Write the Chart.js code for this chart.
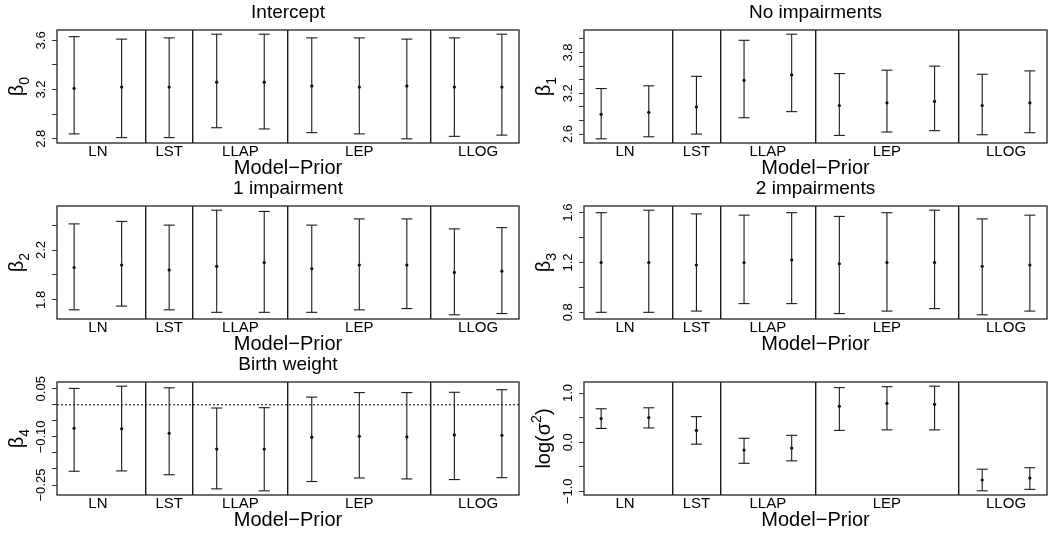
<!DOCTYPE html>
<html>
<head>
<meta charset="utf-8">
<script src="https://cdn.jsdelivr.net/npm/chart.js@4.4.1/dist/chart.umd.min.js"></script>
<style>
  body { margin: 0; background: #fff; }
  #wrap { position: relative; width: 1055px; height: 534px; }
  #wrap canvas { position: absolute; }
</style>
</head>
<body>
<div id="wrap"></div>
<script>
const groups = ['LN', 'LST', 'LLAP', 'LEP', 'LLOG'];
const groupCentres = [1.5, 3, 4.5, 7, 9.5];
const groupBreaks = [2.5, 3.5, 5.5, 8.5];
const fits = [1, 2, 3, 4, 5, 6, 7, 8, 9, 10];

// Intercept
const mid0 = [3.21, 3.22, 3.22, 3.26, 3.26, 3.23, 3.22, 3.23, 3.22, 3.22];
const lo0 = [2.84, 2.81, 2.81, 2.89, 2.88, 2.85, 2.84, 2.80, 2.82, 2.83];
const hi0 = [3.63, 3.61, 3.62, 3.65, 3.65, 3.62, 3.62, 3.61, 3.62, 3.65];
const ticks0 = [2.8, 3.0, 3.2, 3.4, 3.6];
const tickLabels0 = ['2.8', '', '3.2', '', '3.6'];

// No impairments
const mid1 = [2.89, 2.92, 3.00, 3.39, 3.47, 3.02, 3.06, 3.08, 3.02, 3.06];
const lo1 = [2.53, 2.56, 2.60, 2.84, 2.93, 2.58, 2.63, 2.65, 2.59, 2.62];
const hi1 = [3.27, 3.31, 3.45, 3.98, 4.07, 3.49, 3.54, 3.60, 3.48, 3.53];
const ticks1 = [2.6, 2.8, 3.0, 3.2, 3.4, 3.6, 3.8, 4.0];
const tickLabels1 = ['2.6', '', '', '3.2', '', '', '3.8', ''];

// 1 impairment
const mid2 = [2.06, 2.08, 2.04, 2.07, 2.10, 2.05, 2.08, 2.08, 2.02, 2.03];
const lo2 = [1.72, 1.75, 1.72, 1.70, 1.70, 1.70, 1.72, 1.73, 1.68, 1.69];
const hi2 = [2.41, 2.43, 2.40, 2.52, 2.51, 2.40, 2.45, 2.45, 2.37, 2.38];
const ticks2 = [1.8, 2.0, 2.2, 2.4];
const tickLabels2 = ['1.8', '', '2.2', ''];

// 2 impairments
const mid3 = [1.20, 1.20, 1.18, 1.20, 1.22, 1.19, 1.20, 1.20, 1.17, 1.18];
const lo3 = [0.80, 0.80, 0.81, 0.87, 0.87, 0.79, 0.81, 0.83, 0.78, 0.81];
const hi3 = [1.60, 1.62, 1.59, 1.58, 1.60, 1.57, 1.60, 1.62, 1.55, 1.58];
const ticks3 = [0.8, 1.0, 1.2, 1.4, 1.6];
const tickLabels3 = ['0.8', '', '1.2', '', '1.6'];

// Birth weight
const mid4 = [-0.073, -0.075, -0.089, -0.138, -0.138, -0.101, -0.098, -0.100, -0.094, -0.095];
const lo4 = [-0.207, -0.206, -0.218, -0.262, -0.268, -0.239, -0.228, -0.231, -0.233, -0.227];
const hi4 = [0.051, 0.058, 0.053, -0.010, -0.009, 0.024, 0.038, 0.038, 0.039, 0.047];
const ticks4 = [-0.25, -0.20, -0.15, -0.10, -0.05, 0, 0.05];
const tickLabels4 = ['\u22120.25', '', '', '\u22120.10', '', '', '0.05'];

// log(sigma^2)
const mid5 = [0.48, 0.50, 0.24, -0.16, -0.12, 0.73, 0.79, 0.77, -0.77, -0.73];
const lo5 = [0.28, 0.29, -0.04, -0.43, -0.38, 0.24, 0.25, 0.25, -0.99, -0.96];
const hi5 = [0.68, 0.70, 0.52, 0.08, 0.14, 1.11, 1.13, 1.14, -0.55, -0.52];
const ticks5 = [-1.0, -0.5, 0, 0.5, 1.0];
const tickLabels5 = ['\u22121.0', '', '0.0', '', '1.0'];

const panels = [
  { title: 'Intercept', ylab: [['\u03b2', 0], ['0', 1]], mid: mid0, lo: lo0, hi: hi0, ticks: ticks0, labels: tickLabels0 },
  { title: 'No impairments', ylab: [['\u03b2', 0], ['1', 1]], mid: mid1, lo: lo1, hi: hi1, ticks: ticks1, labels: tickLabels1 },
  { title: '1 impairment', ylab: [['\u03b2', 0], ['2', 1]], mid: mid2, lo: lo2, hi: hi2, ticks: ticks2, labels: tickLabels2 },
  { title: '2 impairments', ylab: [['\u03b2', 0], ['3', 1]], mid: mid3, lo: lo3, hi: hi3, ticks: ticks3, labels: tickLabels3 },
  { title: 'Birth weight', ylab: [['\u03b2', 0], ['4', 1]], mid: mid4, lo: lo4, hi: hi4, ticks: ticks4, labels: tickLabels4, refLine: 0 },
  { title: '', ylab: [['log(\u03c3', 0], ['2', -1], [')', 0]], mid: mid5, lo: lo5, hi: hi5, ticks: ticks5, labels: tickLabels5 }
];

const family = '"Liberation Sans", Arial, Helvetica, sans-serif';
const ink = '#1a1a1a';

// R-style y axis: labels parallel to the axis, a boxed plot region
const rAxes = {
  id: 'rAxes',
  afterDraw(chart, args, opts) {
    const { ctx, chartArea: a } = chart;
    const y = chart.scales.y;
    ctx.save();
    ctx.strokeStyle = '#333';
    ctx.lineWidth = 1.4;
    ctx.strokeRect(a.left, a.top, a.right - a.left, a.bottom - a.top);

    ctx.fillStyle = '#000';
    ctx.font = '13px ' + family;
    ctx.textAlign = 'center';
    ctx.textBaseline = 'alphabetic';
    opts.ticks.forEach((v, i) => {
      const t = opts.labels[i];
      if (!t) return;
      ctx.save();
      ctx.translate(a.left - 12, y.getPixelForValue(v));
      ctx.rotate(-Math.PI / 2);
      ctx.fillText(t, 0, 0);
      ctx.restore();
    });

    // axis title with sub/superscripts
    const fontFor = s => (s ? 14 : 20) + 'px ' + family;
    const widths = opts.title.map(([t, s]) => { ctx.font = fontFor(s); return ctx.measureText(t).width; });
    const total = widths.reduce((p, c) => p + c, 0);
    ctx.translate(a.left - 34, (a.top + a.bottom) / 2);
    ctx.rotate(-Math.PI / 2);
    ctx.textAlign = 'left';
    let pos = -total / 2;
    opts.title.forEach(([t, s], i) => {
      ctx.font = fontFor(s);
      ctx.fillText(t, pos, s > 0 ? 6 : s < 0 ? -9 : 0);
      pos += widths[i];
    });
    ctx.restore();
  }
};

const wrap = document.getElementById('wrap');

panels.forEach((p, k) => {
  const col = k % 2, row = Math.floor(k / 2);
  const cv = document.createElement('canvas');
  const cw = col ? 528 : 527, ch = 176;
  cv.width = cw; cv.height = ch;
  cv.style.left = (col ? 527 : 0) + 'px';
  cv.style.top = (row * 176) + 'px';
  wrap.appendChild(cv);

  // axis limits padded 4% beyond the data, as R does
  const xMin = 1 - 0.04 * 9, xMax = 10 + 0.04 * 9;
  const dMin = Math.min(...p.lo), dMax = Math.max(...p.hi);
  const yMin = dMin - 0.04 * (dMax - dMin), yMax = dMax + 0.04 * (dMax - dMin);

  const pts = arr => arr.map((v, i) => ({ x: fits[i], y: v }));
  const stems = p.lo.flatMap((v, i) => [{ x: fits[i], y: v }, { x: fits[i], y: p.hi[i] }, { x: fits[i], y: null }]);

  const datasets = [
    { data: stems, showLine: true, spanGaps: false, borderColor: ink, borderWidth: 1.1, pointRadius: 0, xAxisID: 'x', yAxisID: 'y' },
    { data: pts(p.hi), pointStyle: 'line', pointRadius: 5.5, borderColor: ink, borderWidth: 1.1, xAxisID: 'x', yAxisID: 'y' },
    { data: pts(p.lo), pointStyle: 'line', pointRadius: 5.5, borderColor: ink, borderWidth: 1.1, xAxisID: 'x', yAxisID: 'y' },
    { data: pts(p.mid), pointStyle: 'circle', pointRadius: 1.6, backgroundColor: '#000', borderWidth: 0, xAxisID: 'x', yAxisID: 'y' }
  ];
  if (p.refLine !== undefined) {
    datasets.push({ data: [{ x: xMin, y: p.refLine }, { x: xMax, y: p.refLine }], showLine: true, borderColor: '#000',
      borderWidth: 1, borderDash: [2, 2], pointRadius: 0, xAxisID: 'x', yAxisID: 'y' });
  }

  new Chart(cv.getContext('2d'), {
    type: 'scatter',
    data: { datasets },
    options: {
      responsive: false,
      animation: false,
      devicePixelRatio: 1,
      events: [],
      layout: { padding: { left: 0, right: 8, top: 0, bottom: 0 } },
      plugins: {
        legend: { display: false },
        tooltip: { enabled: false },
        rAxes: { ticks: p.ticks, labels: p.labels, title: p.ylab }
      },
      scales: {
        x: {
          type: 'linear', position: 'bottom', min: xMin, max: xMax,
          afterBuildTicks: s => { s.ticks = groupCentres.map(v => ({ value: v })); },
          afterFit: s => { s.height = 33; },
          ticks: { autoSkip: false, maxRotation: 0, padding: 0, color: '#000', font: { size: 15, family },
            callback: (v, i) => groups[i] },
          grid: { display: false, drawTicks: false },
          border: { display: false },
          title: { display: true, text: 'Model\u2212Prior', color: '#000', font: { size: 20, family, lineHeight: 0.8 }, padding: 0 }
        },
        top: {
          type: 'linear', axis: 'x', position: 'top', min: xMin, max: xMax,
          afterBuildTicks: s => { s.ticks = groupBreaks.map(v => ({ value: v })); },
          afterFit: s => { s.height = 30; },
          ticks: { display: false },
          grid: { drawOnChartArea: true, drawTicks: false, color: ink, lineWidth: 1.4 },
          border: { display: false },
          title: { display: !!p.title, text: p.title, color: '#000', font: { size: 19, family, lineHeight: 1 }, padding: { top: 3, bottom: 0 } }
        },
        y: {
          type: 'linear', position: 'left', min: yMin, max: yMax,
          afterBuildTicks: s => { s.ticks = p.ticks.map(v => ({ value: v })); },
          afterFit: s => { s.width = 57; },
          ticks: { display: false },
          grid: { drawOnChartArea: false, drawTicks: true, tickLength: 5, color: '#333', lineWidth: 1 },
          border: { display: false }
        }
      }
    },
    plugins: [rAxes]
  });
});
</script>
</body>
</html>
